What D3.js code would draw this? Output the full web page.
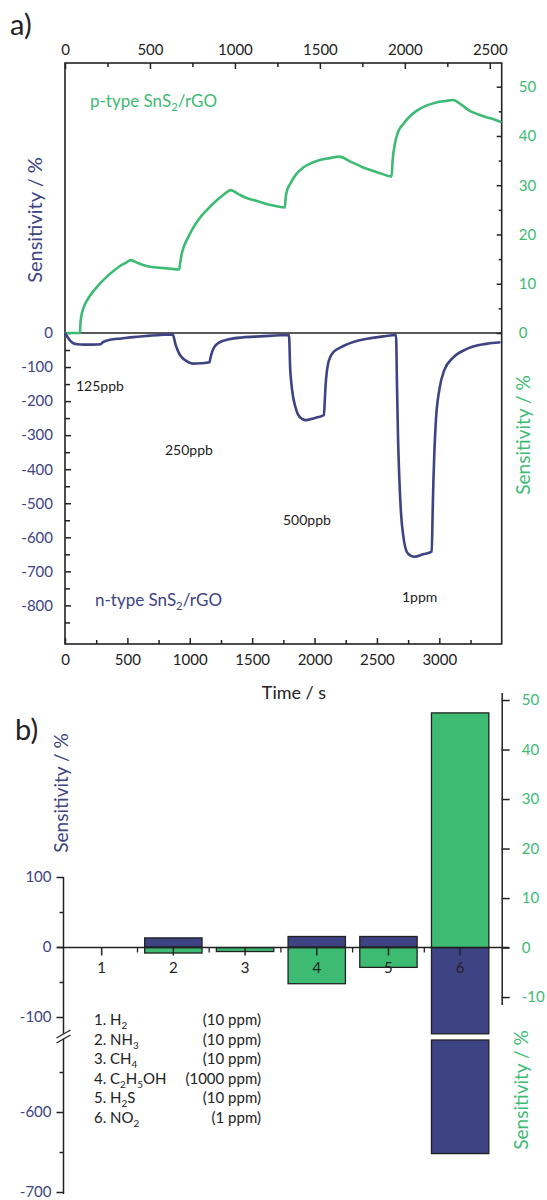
<!DOCTYPE html>
<html>
<head>
<meta charset="utf-8">
<script src="https://cdn.jsdelivr.net/npm/d3@7"></script>
<style>
  body { margin: 0; background: #fff; }
  text { font-family: Lato, "Open Sans", sans-serif; }
</style>
</head>
<body>
<div id="chart"></div>
<script>
// ---- DATA ----
// a) p-type SnS2/rGO response (top time axis, right sensitivity axis)
const pTime = [0, 88, 91, 96, 105, 120, 140, 167, 205, 245, 285, 324, 360, 386, 430, 480, 540, 610, 672,
  678, 688, 700, 720, 755, 790, 833, 870, 912, 945, 975, 1020, 1069, 1130, 1186, 1240, 1294,
  1298, 1306, 1324, 1360, 1402, 1450, 1500, 1560, 1614, 1680, 1755, 1840, 1922,
  1928, 1941, 1960, 1990, 2030, 2069, 2130, 2186, 2240, 2284, 2330, 2382, 2430, 2480, 2530, 2569];
const pSens = [0, 0, 2.0, 3.4, 4.7, 6.0, 7.2, 8.5, 10.0, 11.4, 12.6, 13.6, 14.3, 14.8, 14.2, 13.6, 13.3, 13.1, 12.9,
  14.3, 16.2, 17.6, 19.1, 21.4, 23.2, 24.9, 26.2, 27.5, 28.4, 29, 28.2, 27.4, 26.8, 26.2, 25.8, 25.5,
  27.3, 28.8, 30.2, 32.2, 33.6, 34.5, 35.1, 35.5, 35.8, 34.8, 33.6, 32.6, 31.8,
  35, 38.3, 40.8, 42.4, 44, 45.1, 46.2, 46.8, 47.1, 47.3, 46.4, 45.1, 44.4, 43.8, 43.3, 42.8];

// a) n-type SnS2/rGO response (bottom time axis, left sensitivity axis)
const nTime = [0, 20, 45, 70, 100, 150, 220, 287, 300, 315, 360, 454, 550, 650, 760, 863,
  886, 900, 914, 935, 955, 990, 1025, 1090, 1158, 1165, 1178, 1195, 1224, 1265, 1317, 1420, 1568, 1795,
  1805, 1815, 1827, 1845, 1867, 1900, 1933, 1980, 2030, 2075, 2082, 2088, 2097, 2110, 2127, 2147, 2185, 2227, 2290, 2360, 2450, 2550, 2653,
  2661, 2669, 2680, 2693, 2712, 2747, 2800, 2870, 2939, 2947, 2953, 2960, 2973, 3000, 3040, 3106, 3213, 3373, 3490];
const nSens = [0, -12, -24, -31, -33, -34, -34, -33, -28, -25, -20, -16, -12, -9, -6, -4,
  -34, -48, -60, -71, -78, -86, -90, -89, -86, -75, -56, -42, -31, -23, -18, -13, -10, -6,
  -106, -150, -185, -215, -239, -252, -256, -252, -247, -241, -200, -156, -118, -88, -70, -58, -47, -39, -29, -21, -15, -10, -6,
  -157, -304, -431, -529, -598, -647, -657, -650, -642, -520, -430, -353, -255, -167, -109, -74, -48, -32, -27];

const topTicks = [0, 500, 1000, 1500, 2000, 2500];
const bottomTicks = [0, 500, 1000, 1500, 2000, 2500, 3000];
const leftTicksA = [0, -100, -200, -300, -400, -500, -600, -700, -800];
const rightTicksA = [0, 10, 20, 30, 40, 50];
const concLabels = ["125ppb", "250ppb", "500ppb", "1ppm"];

// b) response to gases
const gases = ["1", "2", "3", "4", "5", "6"];
const nBars = [0, 13, 0, 15, 15, -652];
const pBars = [0, -1.1, -0.8, -7.3, -4.0, 47.4];
const gasNames = ["1. H_2", "2. NH_3", "3. CH_4", "4. C_2H_5OH", "5. H_2S", "6. NO_2"];
const gasConc = ["(10 ppm)", "(10 ppm)", "(10 ppm)", "(1000 ppm)", "(10 ppm)", "(1 ppm)"];

// ---- STYLE ----
const navy = "#3d4383", green = "#3dbb73", ink = "#222";
const fmt = d => String(d);

const svg = d3.select("#chart").append("svg")
  .attr("width", 547).attr("height", 1200);

// text with _n subscripts
function richText(t, str) {
  let shift = 0;
  str.split(/(_\d+)/).filter(p => p).forEach(p => {
    const sub = p[0] === "_";
    const ts = t.append("tspan").text(sub ? p.slice(1) : p);
    const target = sub ? 4 : 0;
    if (target !== shift) ts.attr("dy", target - shift);
    shift = target;
    if (sub) ts.attr("font-size", "0.66em");
  });
  return t;
}

function styleAxis(g, color, size) {
  g.select(".domain").remove();
  g.selectAll(".tick line").attr("stroke", ink).attr("stroke-width", 1.5);
  g.selectAll(".tick text").attr("fill", color).attr("font-size", size)
    .attr("font-family", "Lato, 'Open Sans', sans-serif");
}

function vTitle(x, y, color, size, label) {
  svg.append("text")
    .attr("transform", `translate(${x},${y}) rotate(-90)`)
    .attr("text-anchor", "middle").attr("fill", color)
    .attr("font-size", size).text(label);
}

/* ================= PANEL A ================= */
const A = { left: 65, right: 501.7, top: 63, bottom: 644, zero: 333 };

const xTop = d3.scaleLinear().domain([0, 2570]).range([A.left, A.right]);
const xBot = d3.scaleLinear().domain([0, 3500]).range([A.left, A.right]);
const yP = d3.scaleLinear().domain([0, 50]).range([A.zero, 86.7]);
const yN = d3.scaleLinear().domain([0, -800]).range([A.zero, 605.4]);

svg.append("text").attr("x", 10).attr("y", 35).attr("font-size", 29).attr("fill", ink).text("a)");

// top axis
const gTop = svg.append("g").attr("transform", `translate(0,${A.top})`);
gTop.append("g").call(d3.axisTop(xTop).tickValues(d3.range(250, 2570, 500)).tickSize(-4).tickFormat(""))
  .call(g => styleAxis(g, ink, 15));
gTop.append("g").call(d3.axisTop(xTop).tickValues(topTicks).tickSize(-6).tickPadding(8).tickFormat(fmt))
  .call(g => styleAxis(g, ink, 15));

// bottom axis
const gBot = svg.append("g").attr("transform", `translate(0,${A.bottom})`);
gBot.append("g").call(d3.axisBottom(xBot).tickValues(d3.range(250, 3500, 500)).tickSize(-4).tickFormat(""))
  .call(g => styleAxis(g, ink, 15));
gBot.append("g").call(d3.axisBottom(xBot).tickValues(bottomTicks).tickSize(-6).tickPadding(10).tickFormat(fmt))
  .call(g => styleAxis(g, ink, 15));

// left axis (n-type)
const gLeft = svg.append("g").attr("transform", `translate(${A.left},0)`);
gLeft.append("g").call(d3.axisLeft(yN).tickValues(d3.range(-50, -901, -100)).tickSize(-5).tickFormat(""))
  .call(g => styleAxis(g, navy, 15));
gLeft.append("g").call(d3.axisLeft(yN).tickValues(leftTicksA).tickSize(-6).tickPadding(12).tickFormat(fmt))
  .call(g => styleAxis(g, navy, 15));

// right axis (p-type)
const gRight = svg.append("g").attr("transform", `translate(${A.right},0)`);
gRight.append("g").call(d3.axisRight(yP).tickValues(d3.range(5, 55, 10)).tickSize(-3).tickFormat(""))
  .call(g => styleAxis(g, green, 15));
gRight.append("g").call(d3.axisRight(yP).tickValues(rightTicksA).tickSize(-5).tickPadding(17).tickFormat(fmt))
  .call(g => styleAxis(g, green, 15));

// frame and zero line
svg.append("rect").attr("x", A.left).attr("y", A.top)
  .attr("width", A.right - A.left).attr("height", A.bottom - A.top)
  .attr("fill", "none").attr("stroke", ink).attr("stroke-width", 1.6);
svg.append("line").attr("x1", A.left).attr("x2", A.right).attr("y1", A.zero).attr("y2", A.zero)
  .attr("stroke", ink).attr("stroke-width", 1.5);

// curves
const pLine = d3.line().x((d, i) => xTop(pTime[i])).y(d => yP(d)).curve(d3.curveMonotoneX);
const nLine = d3.line().x((d, i) => xBot(nTime[i])).y(d => yN(d)).curve(d3.curveMonotoneX);

svg.append("path").datum(pSens).attr("d", pLine)
  .attr("fill", "none").attr("stroke", green).attr("stroke-width", 2.6);
svg.append("path").datum(nSens).attr("d", nLine)
  .attr("fill", "none").attr("stroke", navy).attr("stroke-width", 2.6);

// annotations
richText(svg.append("text").attr("x", 90).attr("y", 107).attr("font-size", 17).attr("fill", green), "p-type SnS_2/rGO");
richText(svg.append("text").attr("x", 95).attr("y", 606).attr("font-size", 17).attr("fill", navy), "n-type SnS_2/rGO");

const concPos = [[76, 391], [165, 455], [283, 525], [402, 602]];
svg.selectAll("text.conc").data(concLabels).join("text").attr("class", "conc")
  .attr("x", (d, i) => concPos[i][0]).attr("y", (d, i) => concPos[i][1])
  .attr("font-size", 14).attr("fill", ink).text(d => d);

svg.append("text").attr("x", 294).attr("y", 699).attr("text-anchor", "middle")
  .attr("font-size", 18).attr("fill", ink).text("Time / s");

vTitle(42, 220, navy, 20, "Sensitivity / %");
vTitle(530, 435, green, 19, "Sensitivity / %");

/* ================= PANEL B ================= */
const B = { zero: 947.5, axisX: 63.5, right: 501.7 };

svg.append("text").attr("x", 15).attr("y", 740).attr("font-size", 29).attr("fill", ink).text("b)");

const xB = d3.scaleBand().domain(gases).range([65.8, 496]).paddingInner(0.2).paddingOuter(0.1);
const yUp = d3.scaleLinear().domain([100, -124]).range([877, 1033.8]);
const yLow = d3.scaleLinear().domain([-510, -700]).range([1040, 1192]);
const yR = d3.scaleLinear().domain([51.5, -11.5]).range([692.6, 1004.5]);

// n-type bars (left axis, with break)
const barG = svg.append("g");
gases.forEach((c, i) => {
  const v = nBars[i];
  if (v === 0) return;
  const segs = v >= -124 ? [[yUp(Math.max(v, 0)), yUp(Math.min(v, 0))]]
    : [[yUp(0), yUp(-124)], [yLow(-510), yLow(v)]];
  segs.forEach(s => barG.append("rect")
    .attr("x", xB(c)).attr("width", xB.bandwidth())
    .attr("y", s[0]).attr("height", s[1] - s[0])
    .attr("fill", navy).attr("stroke", ink).attr("stroke-width", 1.3));
});
// p-type bars (right axis)
const pData = gases.map((c, i) => ({ c, v: pBars[i] })).filter(d => d.v !== 0);
barG.selectAll("rect.p").data(pData).join("rect").attr("class", "p")
  .attr("x", d => xB(d.c)).attr("width", xB.bandwidth())
  .attr("y", d => yR(Math.max(d.v, 0)))
  .attr("height", d => Math.abs(yR(d.v) - yR(0)))
  .attr("fill", green).attr("stroke", ink).attr("stroke-width", 1.3);

// zero line + category ticks
svg.append("line").attr("x1", 57).attr("x2", 509).attr("y1", B.zero).attr("y2", B.zero)
  .attr("stroke", ink).attr("stroke-width", 1.5);
const gx = svg.append("g").attr("transform", `translate(0,${B.zero})`);
gx.call(d3.axisBottom(xB).tickSize(8).tickPadding(5))
  .call(g => styleAxis(g, ink, 15));
gx.selectAll(".tick text").attr("dy", "0.8em");
gx.selectAll("line.between").data(gases.slice(0, 5)).join("line").attr("class", "between")
  .attr("x1", d => xB(d) + xB.bandwidth() / 2 + xB.step() / 2)
  .attr("x2", d => xB(d) + xB.bandwidth() / 2 + xB.step() / 2)
  .attr("y1", 0).attr("y2", 5).attr("stroke", ink).attr("stroke-width", 1.3);

// left axis (upper + lower segment)
const gUp = svg.append("g").attr("transform", `translate(${B.axisX},0)`);
gUp.append("g").call(d3.axisLeft(yUp).tickValues([50, -50]).tickSize(4).tickFormat(""))
  .call(g => styleAxis(g, navy, 15));
gUp.append("g").call(d3.axisLeft(yUp).tickValues([100, 0, -100]).tickSize(7).tickPadding(5).tickFormat(fmt))
  .call(g => styleAxis(g, navy, 15));
gUp.append("g").call(d3.axisLeft(yLow).tickValues([-550, -650]).tickSize(4).tickFormat(""))
  .call(g => styleAxis(g, navy, 15));
gUp.append("g").call(d3.axisLeft(yLow).tickValues([-600, -700]).tickSize(7).tickPadding(5).tickFormat(fmt))
  .call(g => styleAxis(g, navy, 15));
svg.append("line").attr("x1", B.axisX).attr("x2", B.axisX).attr("y1", yUp(100)).attr("y2", yLow(-700) + 2)
  .attr("stroke", ink).attr("stroke-width", 1.5);
// axis break mark
svg.append("path").attr("d", `M${B.axisX - 4},1036 L${B.axisX + 4},1031 L${B.axisX + 4},1036 L${B.axisX - 4},1041 Z`)
  .attr("fill", "#fff");
[0, 5].forEach(o => svg.append("line")
  .attr("x1", B.axisX - 7).attr("y1", 1038 + o).attr("x2", B.axisX + 7).attr("y2", 1030 + o)
  .attr("stroke", ink).attr("stroke-width", 1.3));

// right axis
const gR = svg.append("g").attr("transform", `translate(${B.right},0)`);
gR.call(d3.axisRight(yR).tickValues(d3.range(-10, 51, 10)).tickSize(8).tickSizeOuter(0).tickPadding(12).tickFormat(fmt))
  .call(g => {
    g.selectAll(".tick line").attr("stroke", ink).attr("stroke-width", 1.5);
    g.select(".domain").attr("stroke", ink).attr("stroke-width", 1.5);
    g.selectAll(".tick text").attr("fill", green).attr("font-size", 15)
      .attr("font-family", "Lato, 'Open Sans', sans-serif");
  });

vTitle(68, 793, navy, 19, "Sensitivity / %");
vTitle(528, 1090, green, 19, "Sensitivity / %");

// gas legend
const leg = svg.append("g");
gasNames.forEach((name, i) => {
  const y = 1025 + i * 19.6;
  richText(leg.append("text").attr("x", 94).attr("y", y).attr("font-size", 15).attr("fill", ink), name);
  leg.append("text").attr("x", 261).attr("y", y).attr("text-anchor", "end")
    .attr("font-size", 15).attr("fill", ink).text(gasConc[i]);
});
</script>
</body>
</html>
